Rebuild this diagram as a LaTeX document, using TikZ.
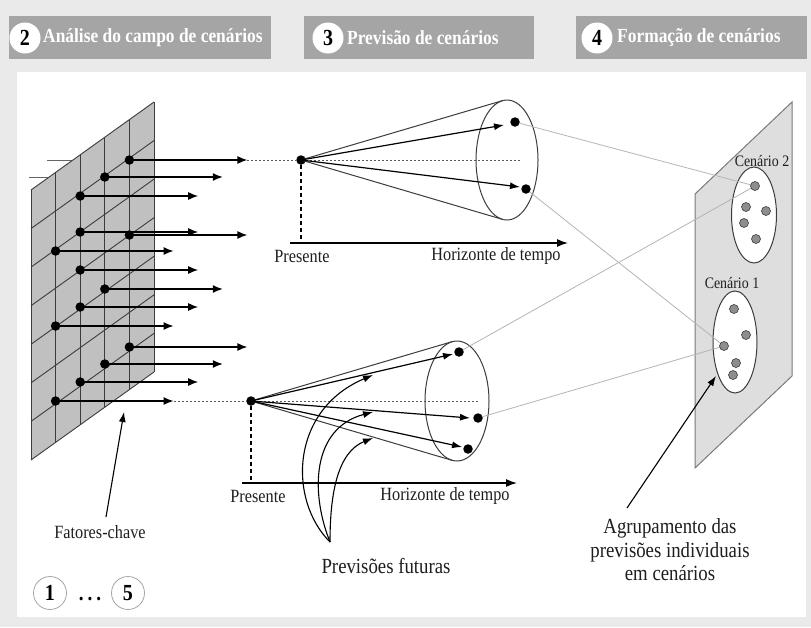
\documentclass[tikz,border=0pt]{standalone}
\usepackage{fontspec}
\setmainfont{Liberation Serif}[FakeStretch=0.87]
\usetikzlibrary{arrows.meta}

\definecolor{pagegray}{HTML}{EAEAEA}
\definecolor{headgray}{HTML}{A5A5A5}
\definecolor{gridfill}{HTML}{C0C0C0}
\definecolor{gridline}{HTML}{3C3C3C}
\definecolor{sheetfill}{HTML}{DEDEDE}
\definecolor{sheetline}{HTML}{7A7A7A}
\definecolor{linkgray}{HTML}{B4B4B4}
\definecolor{pointfill}{HTML}{8E8E8E}
\definecolor{ink}{HTML}{1E1E1E}

\tikzset{
  headbox/.style={fill=headgray, draw=none, minimum height=43pt, anchor=north west, inner sep=0pt},
  headnum/.style={circle, fill=white, minimum size=31pt, inner sep=0pt, text=black,
    font=\fontsize{23}{23}\selectfont\bfseries},
  headtext/.style={anchor=west, text=white, inner sep=0pt,
    font=\fontsize{20}{20}\selectfont\bfseries},
  bigdot/.style={circle, fill=black, minimum size=9.5pt, inner sep=0pt},
  graypoint/.style={circle, fill=pointfill, draw=gridline, line width=0.6pt, minimum size=9pt, inner sep=0pt},
  factarrow/.style={line width=1.4pt, -{Latex[length=10pt,width=8pt]}},
  forearrow/.style={line width=1.2pt, -{Latex[length=10pt,width=7pt]}},
  pointer/.style={line width=1.1pt, -{Latex[length=10pt,width=7pt]}},
  guide/.style={line width=1pt, dash pattern=on 2pt off 2pt, gray!70!black},
  dropline/.style={line width=1.3pt, dash pattern=on 4pt off 3pt},
  axis/.style={line width=1.3pt, -{Latex[length=11pt,width=8pt]}},
  cone/.style={line width=1pt, draw=gridline},
  link/.style={line width=0.8pt, draw=linkgray},
  lbl/.style={inner sep=0pt, text=ink, font=\fontsize{18.7}{20}\selectfont},
  biglbl/.style={inner sep=0pt, text=ink, align=center, font=\fontsize{21.6}{23.5}\selectfont},
  scenlbl/.style={inner sep=0pt, text=ink, font=\fontsize{16}{16}\selectfont},
  stepnum/.style={circle, draw=gray!70, line width=0.8pt, fill=white, minimum size=33pt, inner sep=0pt,
    font=\fontsize{23}{23}\selectfont\bfseries}
}

\begin{document}
\begin{tikzpicture}[x=1pt, y=-1pt]
\useasboundingbox (0,0) rectangle (811,627);
\fill[pagegray] (0,0) rectangle (811,627);
\fill[white] (17,72) rectangle (806,617);

% ---------- phase headers ----------
\node[headbox, minimum width=262pt] (hb2) at (9,16) {};
\node[headnum] (hn2) at (25,38) {2};
\node[headtext] (ht2) at (43,38) {Análise do campo de cenários};

\node[headbox, minimum width=230pt] (hb3) at (304,16) {};
\node[headnum] (hn3) at (328,38) {3};
\node[headtext] (ht3) at (347,38) {Previsão de cenários};

\node[headbox, minimum width=231pt] (hb4) at (576,16) {};
\node[headnum] (hn4) at (597,38) {4};
\node[headtext] (ht4) at (617,38) {Formação de cenários};

% ---------- key-factor grid ----------
\fill[gridfill] (31,190) -- (154,102) -- (154,372) -- (31,460) -- cycle;
\draw[gray!80!black, line width=1pt] (47,160.5) -- (71.5,160.5);
\draw[gray!80!black, line width=1pt] (29,177) -- (49.2,177);
\foreach \i in {0,...,5} {
  \draw[gridline, line width=0.9pt] ({31+\i*24.6},{190-\i*17.6}) -- ({31+\i*24.6},{460-\i*17.6});
}
\foreach \j in {0,...,7} {
  \draw[gridline, line width=0.9pt] (31,{190+\j*270/7}) -- (154,{102+\j*270/7});
}

% factor arrows (dots sit on the grid columns)
\foreach \x/\y/\n in {129.4/160/1, 104.8/177/2, 80.2/196/3, 80.2/232/4, 129.4/235/5,
                      55.6/251/6, 80.2/270/7, 104.8/289/8, 80.2/307/9, 55.6/326/10,
                      129.4/347/11, 104.8/364/12, 80.2/382/13, 55.6/401/14} {
  \coordinate (ge\n) at ({\x+118},\y);
  \draw[factarrow] (\x,\y) -- (ge\n);
  \node[bigdot] (g\n) at (\x,\y) {};
}

% ---------- upper forecast cone ----------
\node[bigdot] (u0) at (301,160) {};
\coordinate (uc) at (507,160);
\draw[guide] (ge1) -- (u0);
\draw[guide] (u0) -- (520,160);
\draw[cone] (uc) ellipse [x radius=31, y radius=60];
\coordinate (ut) at (502.3,100.7);
\coordinate (ub) at (502.3,219.3);
\draw[cone] (u0.center) -- (ut);
\draw[cone] (u0.center) -- (ub);
\node[bigdot] (u1) at (515,122) {};
\node[bigdot] (u2) at (526,189) {};
\coordinate (u1t) at (504,125);
\coordinate (u2t) at (520,187);
\draw[forearrow] (u0.center) -- (u1t);
\draw[forearrow] (u0.center) -- (u2t);
\coordinate (uax) at (301,243);
\coordinate (uaxl) at (290,243);
\coordinate (uaxr) at (568,243);
\draw[dropline] (u0) -- (uax);
\draw[axis] (uaxl) -- (uaxr);
\node[lbl] (up) at (302,256) {Presente};
\node[lbl] (uh) at (496,256) {Horizonte de tempo};

% ---------- lower forecast cone ----------
\node[bigdot] (l0) at (251,401) {};
\coordinate (lc) at (457,401);
\draw[guide] (ge14) -- (l0);
\draw[guide] (l0) -- (478,401);
\draw[cone] (lc) ellipse [x radius=32, y radius=60];
\coordinate (lt) at (452,341.7);
\coordinate (lb) at (452,460.3);
\draw[cone] (l0.center) -- (lt);
\draw[cone] (l0.center) -- (lb);
\node[bigdot] (l1) at (459,352) {};
\node[bigdot] (l2) at (478,418) {};
\node[bigdot] (l3) at (468,449) {};
\coordinate (l1t) at (453,354);
\coordinate (l2t) at (470,418);
\coordinate (l3t) at (462,447);
\draw[forearrow] (l0.center) -- (l1t);
\draw[forearrow] (l0.center) -- (l2t);
\draw[forearrow] (l0.center) -- (l3t);
\coordinate (lax) at (251,483);
\coordinate (laxl) at (242,483);
\coordinate (laxr) at (517,483);
\draw[dropline] (l0) -- (lax);
\draw[axis] (laxl) -- (laxr);
\node[lbl] (lp) at (258,496) {Presente};
\node[lbl] (lh) at (445,496) {Horizonte de tempo};

% ---------- future forecasts callout ----------
\coordinate (pf) at (330,542);
\coordinate (pf1) at (373,375);
\coordinate (pf2) at (373,412);
\coordinate (pf3) at (373,438);
\draw[pointer] (pf) .. controls (288,500) and (290,410) .. (pf1);
\draw[pointer] (pf) .. controls (310,492) and (312,428) .. (pf2);
\draw[pointer] (pf) .. controls (330,492) and (338,452) .. (pf3);
\node[biglbl] (pft) at (386,566) {Previsões futuras};

% ---------- scenario sheet ----------
\fill[sheetfill] (695,194) -- (792,102) -- (792,376) -- (695,468) -- cycle;
\draw[sheetline, line width=1pt] (695,194) -- (792,102) -- (792,376) -- (695,468) -- cycle;
\draw[gridline, fill=white, line width=1pt] (754,215) ellipse [x radius=22.5, y radius=48];
\draw[gridline, fill=white, line width=1pt] (735,342) ellipse [x radius=22, y radius=51];
\node[scenlbl] (c2) at (762,161) {Cenário 2};
\node[scenlbl] (c1) at (732,283) {Cenário 1};

\coordinate (s2ac) at (755,186);
\coordinate (s1cc) at (724,346);
\draw[link] (u1) -- (s2ac);
\draw[link] (u2) -- (s1cc);
\draw[link] (l1) -- (s2ac);
\draw[link] (l2) -- (s1cc);

\node[graypoint] (s2a) at (755,186) {};
\node[graypoint] (s2b) at (746,207) {};
\node[graypoint] (s2c) at (766,211) {};
\node[graypoint] (s2d) at (744,223) {};
\node[graypoint] (s2e) at (756,239) {};
\node[graypoint] (s1a) at (734,309) {};
\node[graypoint] (s1b) at (746,335) {};
\node[graypoint] (s1c) at (724,346) {};
\node[graypoint] (s1d) at (736,363) {};
\node[graypoint] (s1e) at (733,375) {};

% grouping callout
\coordinate (agf) at (627,508);
\coordinate (agt) at (716,376);
\draw[pointer] (agf) -- (agt);
\node[biglbl] (agl) at (670,550) {Agrupamento das\\previsões individuais\\em cenários};

% key factors callout
\coordinate (kff) at (106,517);
\coordinate (kft) at (124,412);
\draw[pointer] (kff) -- (kft);
\node[lbl] (kfl) at (100,532) {Fatores-chave};

% ---------- step range ----------
\node[stepnum] (st1) at (50,593) {1};
\node[stepnum] (st5) at (128,593) {5};
\node[inner sep=0pt, font=\fontsize{22}{22}\selectfont\bfseries] (dots) at (90,599) {.\hspace{4pt}.\hspace{4pt}.};
\end{tikzpicture}
\end{document}
